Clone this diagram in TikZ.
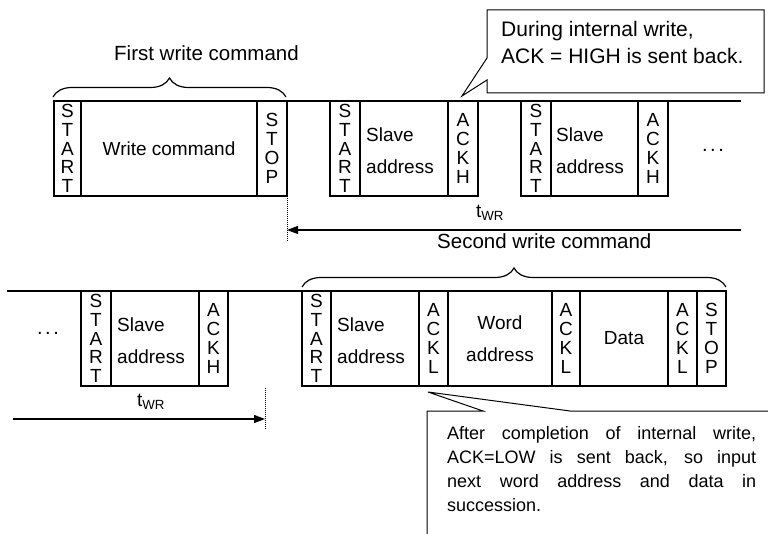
\documentclass[tikz,border=0pt]{standalone}
\usepackage{fontspec}
\setmainfont{Liberation Sans}
\usetikzlibrary{arrows.meta,decorations.pathreplacing}
\begin{document}
\begin{tikzpicture}[x=1pt,y=-1pt,
  seg/.style={draw, line width=1.2pt, inner sep=0pt, outer sep=0pt, minimum height=95pt, anchor=north west, align=center},
  vlab/.style={seg, font=\fontsize{19}{18.8}\selectfont},
  hlab/.style={seg, font=\fontsize{19}{32}\selectfont},
  ltext/.style={font=\fontsize{19}{32}\selectfont, align=left, anchor=west, inner sep=0pt},
  wire/.style={line width=1.2pt},
  head/.style={font=\fontsize{20.5}{24}\selectfont, inner sep=0pt},
  brc/.style={line width=1.2pt, decorate, decoration={brace, amplitude=19pt}},
  dots/.style={densely dotted, line width=1pt},
  tarrow/.style={line width=1.2pt, -{Triangle[length=11pt,width=8pt]}},
  ell/.style={font=\fontsize{20}{20}\selectfont, anchor=base, inner sep=0pt},
  callout/.style={line width=1pt, line join=miter}
]
\useasboundingbox (0,0) rectangle (768,534);

% ---------- top row ----------
\node[vlab, minimum width=27pt] (a1) at (54,101) {S\\T\\A\\R\\T};
\node[hlab, minimum width=176pt] (a2) at (81,101) {Write command};
\node[vlab, minimum width=30pt] (a3) at (257,101) {S\\T\\O\\P};
\node[vlab, minimum width=30pt] (a4) at (330,101) {S\\T\\A\\R\\T};
\node[seg, minimum width=88pt] (a5) at (360,101) {};
\node[ltext] (a5t) at (366,151) {Slave\\address};
\node[vlab, minimum width=30pt] (a6) at (448,101) {A\\C\\K\\H};
\node[vlab, minimum width=30pt] (a7) at (521,101) {S\\T\\A\\R\\T};
\node[seg, minimum width=87pt] (a8) at (551,101) {};
\node[ltext] (a8t) at (556,151) {Slave\\address};
\node[vlab, minimum width=30pt] (a9) at (638,101) {A\\C\\K\\H};
\coordinate (aend) at (741,101);
\draw[wire] (a3.north east) -- (a4.north west);
\draw[wire] (a6.north east) -- (a7.north west);
\draw[wire] (a9.north east) -- (aend);
\node[ell] (adots) at (713,152) {.\hspace{2.5pt}.\hspace{2.5pt}.};

\draw[brc] (53,97) -- (286,97);
\node[head, anchor=west] (firstcmd) at (114,53) {First write command};

% tWR (top)
\coordinate (dtop1) at (287,196);
\coordinate (dtop2) at (287,242);
\draw[dots] (dtop1) -- (dtop2);
\coordinate (arrA) at (741,230);
\coordinate (arrAt) at (287,230);
\draw[tarrow] (arrA) -- (arrAt);
\node[font=\fontsize{19}{19}\selectfont, inner sep=0pt] (twr1) at (490,213) {t\textsubscript{WR}};
\node[head, anchor=west] (secondcmd) at (437,241) {Second write command};

% top callout
\node[font=\fontsize{21}{27}\selectfont, align=left, anchor=north west, inner sep=0pt] (c1t) at (501,21) {During internal write,\\ACK = HIGH is sent back.};
\draw[callout] (487,10) -- (764,10) -- (764,93) -- (487,93) -- (487,80) -- (462,96) -- (487,58) -- cycle;

% ---------- bottom row ----------
\coordinate (bstart) at (7,291);
\node[vlab, minimum width=30pt] (b1) at (81,291) {S\\T\\A\\R\\T};
\node[seg, minimum width=88pt] (b2) at (111,291) {};
\node[ltext] (b2t) at (117,341) {Slave\\address};
\node[vlab, minimum width=29pt] (b3) at (199,291) {A\\C\\K\\H};
\node[vlab, minimum width=29pt] (d1) at (302,291) {S\\T\\A\\R\\T};
\node[seg, minimum width=88pt] (d2) at (331,291) {};
\node[ltext] (d2t) at (337,341) {Slave\\address};
\node[vlab, minimum width=29pt] (d3) at (419,291) {A\\C\\K\\L};
\node[hlab, minimum width=104pt] (d4) at (448,291) {Word\\address};
\node[vlab, minimum width=28pt] (d5) at (552,291) {A\\C\\K\\L};
\node[hlab, minimum width=88pt] (d6) at (580,291) {Data};
\node[vlab, minimum width=29pt] (d7) at (668,291) {A\\C\\K\\L};
\node[vlab, minimum width=29pt] (d8) at (697,291) {S\\T\\O\\P};
\draw[wire] (bstart) -- (b1.north west);
\draw[wire] (b3.north east) -- (d1.north west);
\node[ell] (bdots) at (48,335) {.\hspace{2.5pt}.\hspace{2.5pt}.};

\draw[brc] (302,287) -- (726,287);

% tWR (bottom)
\coordinate (dbot1) at (265,388);
\coordinate (dbot2) at (265,430);
\draw[dots] (dbot1) -- (dbot2);
\coordinate (arrB) at (13,419);
\coordinate (arrBt) at (265,419);
\draw[tarrow] (arrB) -- (arrBt);
\node[font=\fontsize{19}{19}\selectfont, inner sep=0pt] (twr2) at (151,402) {t\textsubscript{WR}};

% bottom callout
\draw[callout] (427,534) -- (427,411) -- (483,411) -- (428,392) -- (570,411) -- (768,411);
\node[font=\fontsize{18}{24}\selectfont, text width=309pt, align=justify, anchor=north west, inner sep=0pt] (c2t) at (447,426)
  {After completion of internal write,\linebreak ACK=LOW is sent back, so input\linebreak next word address and data in\linebreak succession.};
\end{tikzpicture}
\end{document}
